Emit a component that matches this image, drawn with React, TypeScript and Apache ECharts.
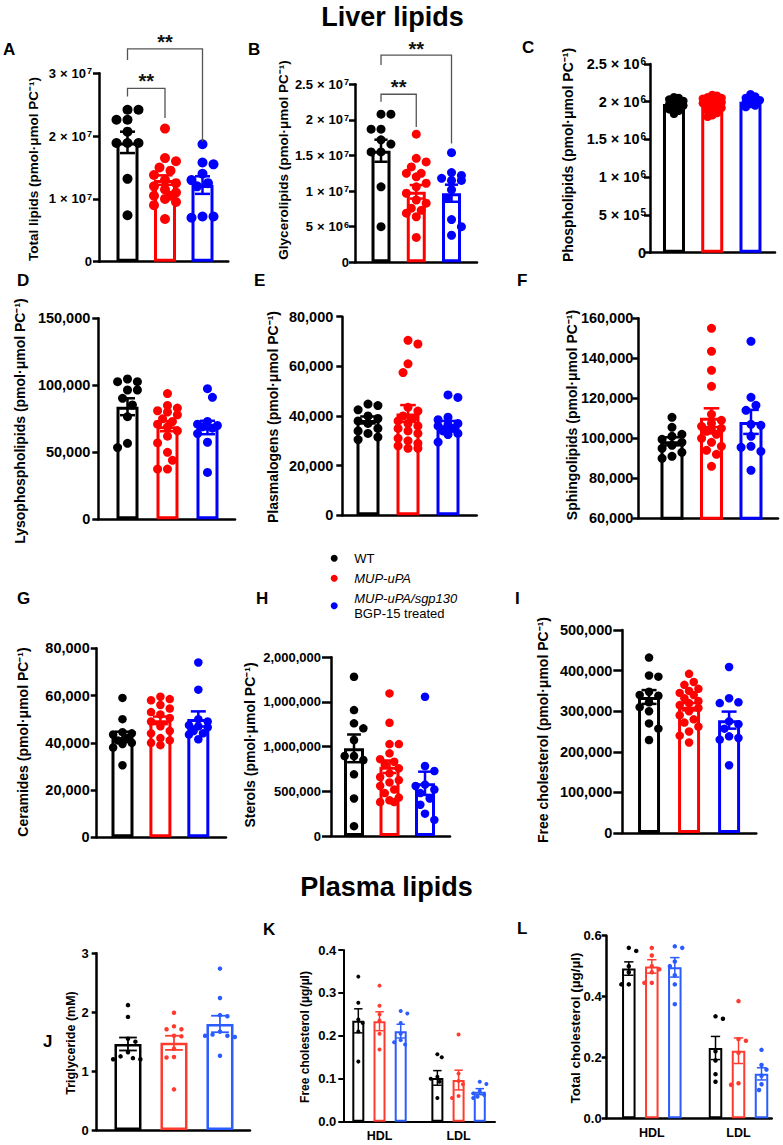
import React, { useEffect, useRef } from "react";
import * as echarts from "echarts";

const FONT = "'Liberation Sans', Arial, Helvetica, sans-serif";
const GROUPS = ["WT", "MUP-uPA", "MUP-uPA/sgp130 BGP-15 treated"];
const LIVER = ["#000000", "#ff0000", "#0000ff"];
const PLASMA = ["#000000", "#ff3b2f", "#2a5cff"];

// ---------- A: Total lipids ----------
const aWT = [24.2e6, 24.2e6, 22.6e6, 22.6e6, 20.7e6, 18.9e6, 18.9e6, 18.9e6, 13.2e6, 7.4e6];
const aMUP = [21.2e6, 16.5e6, 16.0e6, 15.0e6, 14.5e6, 13.8e6, 13.0e6, 12.5e6, 12.0e6, 11.5e6, 11.0e6, 10.5e6, 10.5e6, 10.0e6, 9.5e6, 9.0e6, 6.8e6];
const aBGP = [18.7e6, 15.8e6, 15.5e6, 14.0e6, 13.0e6, 12.5e6, 12.0e6, 7.2e6, 7.2e6, 7.0e6];
const aMean = [19.0e6, 13.0e6, 12.2e6];
const aSem = [1.7e6, 0.75e6, 1.4e6];
const aTicks = ["0", "1 × 10⁷", "2 × 10⁷", "3 × 10⁷"];
// bracket: [x1, x2, top, leftEnd, rightEnd, textY]
const aBrackets = [
  [0, 1, 27.6e6, 26.3e6, 22.9e6, 29.5e6],
  [0, 2, 33.9e6, 32.1e6, 19.1e6, 35.8e6],
];

// ---------- B: Glycerolipids ----------
const bWT = [20.8e6, 20.8e6, 18.7e6, 18.7e6, 17.2e6, 16.6e6, 15.5e6, 15.5e6, 10.6e6, 5.0e6];
const bMUP = [18.0e6, 14.6e6, 14.1e6, 13.4e6, 12.5e6, 12.5e6, 12.0e6, 11.1e6, 10.6e6, 9.7e6, 8.75e6, 8.3e6, 7.6e6, 7.3e6, 6.9e6, 6.4e6, 3.5e6];
const bBGP = [15.4e6, 12.6e6, 12.2e6, 11.8e6, 11.5e6, 11.5e6, 10.2e6, 9.0e6, 6.0e6, 5.0e6, 3.8e6];
const bMean = [15.67e6, 9.9e6, 9.7e6];
const bSem = [1.55e6, 0.95e6, 1.2e6];
const bTicks = ["0", "5 × 10⁶", "1 × 10⁷", "1.5 × 10⁷", "2 × 10⁷", "2.5 × 10⁷"];
const bBrackets = [
  [0, 1, 23.6e6, 22.55e6, 19.0e6, 25.3e6],
  [0, 2, 29.1e6, 27.7e6, 16.7e6, 30.7e6],
];

// ---------- C: Phospholipids ----------
const cWT = [2.06e6, 2.05e6, 2.03e6, 2.01e6, 2.0e6, 1.98e6, 1.97e6, 1.95e6, 1.93e6, 1.9e6, 1.88e6, 1.84e6];
const cMUP = [2.09e6, 2.08e6, 2.06e6, 2.05e6, 2.04e6, 2.02e6, 2.01e6, 2.0e6, 1.99e6, 1.98e6, 1.97e6, 1.95e6, 1.94e6, 1.92e6, 1.9e6, 1.88e6, 1.85e6, 1.82e6, 1.8e6];
const cBGP = [2.1e6, 2.07e6, 2.05e6, 2.04e6, 2.02e6, 2.01e6, 1.99e6, 1.97e6, 1.95e6, 1.93e6];
const cMean = [1.97e6, 1.97e6, 2.0e6];
const cSem = [0.02e6, 0.02e6, 0.02e6];
const cTicks = ["0", "5 × 10⁵", "1 × 10⁶", "1.5 × 10⁶", "2 × 10⁶", "2.5 × 10⁶"];

// ---------- D: Lysophospholipids ----------
const dWT = [104.7e3, 102.7e3, 102.7e3, 96.5e3, 96.5e3, 90.3e3, 85.3e3, 76.6e3, 56.7e3, 53.5e3];
const dMUP = [93.8e3, 85e3, 83e3, 81e3, 80e3, 78e3, 75e3, 73e3, 71e3, 69e3, 66e3, 62e3, 57e3, 50e3, 44e3, 37.5e3, 37.5e3];
const dBGP = [97.5e3, 91e3, 73e3, 71e3, 70e3, 69e3, 68e3, 64e3, 57.5e3, 35e3];
const dMean = [84e3, 69.5e3, 68.5e3];
const dSem = [6.3e3, 3.8e3, 5.0e3];
const dTicks = ["0", "50,000", "100,000", "150,000"];

// ---------- E: Plasmalogens ----------
const eWT = [44.8e3, 44.2e3, 42.5e3, 40e3, 39e3, 38e3, 37e3, 35e3, 34e3, 33e3, 31.5e3, 30.5e3];
const eMUP = [70.5e3, 69e3, 61e3, 57.5e3, 43.5e3, 42e3, 40e3, 39e3, 38e3, 37e3, 36e3, 35e3, 34e3, 33e3, 31e3, 30e3, 29e3, 28e3, 27e3, 27e3];
const eBGP = [48.5e3, 47.5e3, 39.5e3, 38.5e3, 37e3, 36.5e3, 36e3, 35e3, 34e3, 33e3, 32.5e3, 29.5e3];
const eMean = [38.4e3, 41.0e3, 36.3e3];
const eSem = [1.4e3, 3.4e3, 1.7e3];
const eTicks = ["0", "20,000", "40,000", "60,000", "80,000"];

// ---------- F: Sphingolipids ----------
const fWT = [110.5e3, 105.5e3, 102e3, 101e3, 99.5e3, 98e3, 96.5e3, 95e3, 93e3, 91e3, 90e3];
const fMUP = [155e3, 143.5e3, 134e3, 126e3, 112e3, 109e3, 107.5e3, 106e3, 105e3, 104e3, 103.5e3, 102e3, 100e3, 98e3, 96e3, 94e3, 92e3, 86e3];
const fBGP = [148.5e3, 120.5e3, 116.5e3, 114e3, 107e3, 106.5e3, 101e3, 96e3, 95.5e3, 93.5e3, 84e3];
const fMean = [98.5e3, 110.3e3, 108.2e3];
const fSem = [2.0e3, 4.7e3, 6.0e3];
const fTicks = ["60,000", "80,000", "100,000", "120,000", "140,000", "160,000"];

// ---------- G: Ceramides ----------
const gWT = [59e3, 50e3, 44.5e3, 44e3, 43.5e3, 42e3, 41e3, 40e3, 39.5e3, 38e3, 30.5e3];
const gMUP = [59.5e3, 58.5e3, 58e3, 56e3, 54.5e3, 53e3, 52e3, 50.5e3, 49e3, 47e3, 45e3, 44e3, 42e3, 41e3, 40e3, 39e3];
const gBGP = [74e3, 62.5e3, 50e3, 49e3, 47.5e3, 47e3, 46.5e3, 45e3, 44e3, 43.5e3, 41.5e3];
const gMean = [42.5e3, 49.5e3, 50.1e3];
const gSem = [2.2e3, 1.6e3, 3.2e3];
const gTicks = ["0", "20,000", "40,000", "60,000", "80,000"];

// ---------- H: Sterols ----------
const hWT = [1782e3, 1409e3, 1261e3, 1205e3, 1074e3, 895e3, 895e3, 850e3, 690e3, 420e3, 110e3];
const hMUP = [1596e3, 1267e3, 1029e3, 1029e3, 925e3, 860e3, 831e3, 800e3, 757e3, 701e3, 660e3, 626e3, 600e3, 560e3, 520e3, 480e3, 430e3, 400e3, 380e3, 380e3];
const hBGP = [1558e3, 783e3, 727e3, 575e3, 560e3, 520e3, 480e3, 420e3, 350e3, 250e3, 180e3];
const hMean = [981e3, 775e3, 590e3];
const hSem = [155e3, 70e3, 130e3];
const hTicks = ["0", "500,000", "1,000,000", "1,000,000", "2,000,000"];

// ---------- I: Free cholesterol ----------
const iWT = [432e3, 388e3, 385e3, 348e3, 340e3, 338e3, 322e3, 310e3, 300e3, 270e3, 257e3, 229e3];
const iMUP = [392e3, 372e3, 365e3, 355e3, 350e3, 345e3, 340e3, 332e3, 325e3, 320e3, 315e3, 308e3, 300e3, 290e3, 280e3, 272e3, 262e3, 250e3, 240e3, 223e3];
const iBGP = [409e3, 332e3, 322e3, 320e3, 275e3, 268e3, 257e3, 238e3, 234e3, 230e3, 167e3];
const iMean = [335e3, 311e3, 278e3];
const iSem = [17e3, 9e3, 21e3];
const iTicks = ["0", "100,000", "200,000", "300,000", "400,000", "500,000"];

// ---------- J: Triglyceride ----------
const jWT = [2.12, 1.92, 1.55, 1.5, 1.32, 1.25, 1.22, 1.2, 1.2];
const jMUP = [1.99, 1.76, 1.71, 1.71, 1.6, 1.59, 1.38, 1.24, 1.23, 0.69];
const jBGP = [2.74, 2.24, 1.95, 1.93, 1.67, 1.62, 1.6, 1.6, 1.58, 1.26];
const jMean = [1.46, 1.48, 1.8];
const jSem = [0.11, 0.12, 0.14];
const jTicks = ["0", "1", "2", "3"];

// ---------- K: Free cholesterol (plasma) ----------
const kHdlWT = [0.338, 0.277, 0.238, 0.23, 0.21, 0.14];
const kHdlMUP = [0.317, 0.27, 0.25, 0.236, 0.205, 0.168];
const kHdlBGP = [0.258, 0.252, 0.23, 0.205, 0.19, 0.185, 0.18];
const kLdlWT = [0.157, 0.15, 0.105, 0.1, 0.093, 0.055];
const kLdlMUP = [0.203, 0.112, 0.095, 0.087, 0.06, 0.055];
const kLdlBGP = [0.093, 0.088, 0.072, 0.066, 0.062, 0.058, 0.055];
const kMean = [0.235, 0.234, 0.211, 0.102, 0.097, 0.07];
const kSem = [0.028, 0.022, 0.016, 0.017, 0.023, 0.007];
const kTicks = ["0.0", "0.1", "0.2", "0.3", "0.4"];

// ---------- L: Total cholesterol (plasma) ----------
const lHdlWT = [0.56, 0.55, 0.5, 0.48, 0.44, 0.44];
const lHdlMUP = [0.56, 0.535, 0.5, 0.49, 0.48, 0.445, 0.445];
const lHdlBGP = [0.565, 0.56, 0.515, 0.5, 0.47, 0.44, 0.375];
const lLdlWT = [0.335, 0.327, 0.22, 0.19, 0.145, 0.12];
const lLdlMUP = [0.385, 0.26, 0.255, 0.215, 0.115, 0.11];
const lLdlBGP = [0.225, 0.175, 0.16, 0.14, 0.112, 0.093];
const lMean = [0.492, 0.499, 0.496, 0.231, 0.222, 0.146];
const lSem = [0.022, 0.022, 0.032, 0.038, 0.042, 0.02];
const lTicks = ["0.0", "0.2", "0.4", "0.6"];

const lipoCats = ["HDL", "LDL"];

const PC = " (pmol·μmol PC⁻¹)";

const LIV = { colors: LIVER, series: [0, 1, 2], pos: [0, 1, 2], border: 3, errW: 2.5, axisW: 2.5, swarmK: 1.0 };

// layout per panel (positions in px, sizes, fonts)
const panels: any[] = [
  { ...LIV, letter: "A", lx: 3, ly: 49, left: 99, top: 73.3, width: 129.3, height: 188.4, xMin: -0.76, xMax: 2.688,
    yMin: 0, yMax: 3e7, yInt: 1e7, ticks: aTicks, name: "Total lipids" + PC, nx: 33, ny: 169, nameSize: 13.5, tickSize: 13, margin: 7, tickLen: 6,
    barW: 25, dot: 10, means: aMean, sems: aSem, points: [aWT, aMUP, aBGP], brackets: aBrackets },
  { ...LIV, letter: "B", lx: 248, ly: 49, left: 355, top: 84.3, width: 122, height: 178, xMin: -0.738, xMax: 2.723,
    yMin: 0, yMax: 2.5e7, yInt: 5e6, ticks: bTicks, name: "Glycerolipids" + PC, nx: 283, ny: 160, nameSize: 13.5, tickSize: 13, margin: 6, tickLen: 6,
    barW: 22, dot: 9, means: bMean, sems: bSem, points: [bWT, bMUP, bBGP], brackets: bBrackets },
  { ...LIV, swarmK: 0.5, letter: "C", lx: 522, ly: 47, left: 650, top: 64, width: 125, height: 188.7, xMin: -0.627, xMax: 2.641,
    yMin: 0, yMax: 2.5e6, yInt: 5e5, ticks: cTicks, name: "Phospholipids" + PC, nx: 568, ny: 155, nameSize: 14, tickSize: 14.5, margin: 4, tickLen: 6,
    barW: 25, dot: 8.5, means: cMean, sems: cSem, points: [cWT, cMUP, cBGP] },
  { ...LIV, letter: "D", lx: 17, ly: 280, left: 98.3, top: 318.3, width: 136.7, height: 201, xMin: -0.73, xMax: 2.688,
    yMin: 0, yMax: 150000, yInt: 50000, ticks: dTicks, name: "Lysophospholipids" + PC, nx: 20, ny: 421, nameSize: 14, tickSize: 14.5, margin: 8, tickLen: 6,
    barW: 25, dot: 9, means: dMean, sems: dSem, points: [dWT, dMUP, dBGP] },
  { ...LIV, letter: "E", lx: 254, ly: 280, left: 342.3, top: 316.7, width: 134.4, height: 198.6, xMin: -0.6425, xMax: 2.7175,
    yMin: 0, yMax: 80000, yInt: 20000, ticks: eTicks, name: "Plasmalogens" + PC, nx: 273.3, ny: 417, nameSize: 14, tickSize: 14.5, margin: 9, tickLen: 6,
    barW: 26, dot: 9, means: eMean, sems: eSem, points: [eWT, eMUP, eBGP] },
  { ...LIV, letter: "F", lx: 517, ly: 280, left: 638.3, top: 318.3, width: 139.7, height: 200, xMin: -0.853, xMax: 2.684,
    yMin: 60000, yMax: 160000, yInt: 20000, ticks: fTicks, name: "Sphingolipids" + PC, nx: 571.7, ny: 415, nameSize: 14, tickSize: 14.5, margin: 5, tickLen: 6,
    barW: 26, dot: 9, means: fMean, sems: fSem, points: [fWT, fMUP, fBGP] },
  { ...LIV, letter: "G", lx: 17, ly: 598, left: 96.7, top: 648.3, width: 129.3, height: 189, xMin: -0.68, xMax: 2.73,
    yMin: 0, yMax: 80000, yInt: 20000, ticks: gTicks, name: "Ceramides" + PC, nx: 23, ny: 742, nameSize: 14, tickSize: 14.5, margin: 7, tickLen: 6,
    barW: 25, dot: 8.5, means: gMean, sems: gSem, points: [gWT, gMUP, gBGP] },
  { ...LIV, letter: "H", lx: 256, ly: 598, left: 331, top: 657.3, width: 119, height: 178.7, xMin: -0.648, xMax: 2.704,
    yMin: 0, yMax: 2000000, yInt: 500000, ticks: hTicks, name: "Sterols" + PC, nx: 250, ny: 745, nameSize: 14, tickSize: 13, margin: 10, tickLen: 9,
    barW: 23, dot: 8.5, means: hMean, sems: hSem, points: [hWT, hMUP, hBGP] },
  { ...LIV, letter: "I", lx: 515, ly: 598, left: 622.3, top: 630, width: 134, height: 203, xMin: -0.668, xMax: 2.68,
    yMin: 0, yMax: 500000, yInt: 100000, ticks: iTicks, name: "Free cholesterol" + PC, nx: 543, ny: 730, nameSize: 14, tickSize: 14.5, margin: 10, tickLen: 9,
    barW: 25, dot: 8.5, means: iMean, sems: iSem, points: [iWT, iMUP, iBGP] },
  { colors: PLASMA, series: [0, 1, 2], pos: [0, 1, 2], border: 2.5, errW: 1.8, axisW: 2.5, swarmK: 1.45,
    letter: "J", lx: 43, ly: 1041, left: 96.7, top: 953.3, width: 153.3, height: 176.7, xMin: -0.68, xMax: 2.653,
    yMin: 0, yMax: 3, yInt: 1, ticks: jTicks, name: "Triglyceride (mM)", nx: 71, ny: 1043, nameSize: 12.5, tickSize: 13, margin: 8, tickLen: 5,
    barW: 29.5, dot: 4.5, means: jMean, sems: jSem, points: [jWT, jMUP, jBGP] },
  { colors: [...PLASMA, ...PLASMA], series: [0, 1, 2, 0, 1, 2], pos: [0, 1, 2, 3.73, 4.73, 5.73], border: 2, errW: 1.5, axisW: 2, swarmK: 1.3,
    letter: "K", lx: 263, ly: 929, left: 343.3, top: 950, width: 151.7, height: 171.7, xMin: -0.708, xMax: 6.448,
    yMin: 0, yMax: 0.4, yInt: 0.1, ticks: kTicks, name: "Free cholesterol (µg/µl)", nx: 305, ny: 1037, nameSize: 12, tickSize: 13, margin: 7, tickLen: 5,
    barW: 14, dot: 4, means: kMean, sems: kSem, points: [kHdlWT, kHdlMUP, kHdlBGP, kLdlWT, kLdlMUP, kLdlBGP], catPos: [1, 4.73] },
  { colors: [...PLASMA, ...PLASMA], series: [0, 1, 2, 0, 1, 2], pos: [0, 1, 2, 3.77, 4.77, 5.77], border: 2, errW: 1.5, axisW: 2.5, swarmK: 1.3,
    letter: "L", lx: 517, ly: 928, left: 606.7, top: 935.7, width: 165, height: 182.6, xMin: -0.961, xMax: 6.213,
    yMin: 0, yMax: 0.6, yInt: 0.2, ticks: lTicks, name: "Total cholesterol (µg/µl)", nx: 575, ny: 1028, nameSize: 13.5, tickSize: 13, margin: 5, tickLen: 5,
    barW: 15.5, dot: 4.5, means: lMean, sems: lSem, points: [lHdlWT, lHdlMUP, lHdlBGP, lLdlWT, lLdlMUP, lLdlBGP], catPos: [1, 4.77] },
];

const SUP: Record<string, string> = { "⁰": "0", "¹": "1", "²": "2", "³": "3", "⁴": "4", "⁵": "5", "⁶": "6", "⁷": "7", "⁸": "8", "⁹": "9" };
// "2.5 × 10⁷" -> rich text tokens (mantissa, times sign, base, superscript exponent)
function toRich(t: string): string {
  const m = t.match(/^(.*) × 10([⁰¹²³⁴⁵⁶⁷⁸⁹]+)$/);
  if (!m) return "{n|" + t + "}";
  const exp = m[2].split("").map((c) => SUP[c]).join("");
  return "{n|" + m[1] + "}{x|×}{n|10}{s|" + exp + "}";
}

// beeswarm layout of dots (pixel offsets), deterministic
function swarm(vals: number[], pxPerUnit: number, diam: number, k: number, maxOff: number): number[] {
  const order = vals.map((_, i) => i).sort((a, b) => vals[b] - vals[a]);
  const placed: { x: number; y: number }[] = [];
  const out: number[] = new Array(vals.length).fill(0);
  const minD = diam * k;
  const step = diam * 0.55;
  let flip = 1;
  for (const i of order) {
    const y = vals[i] * pxPerUnit;
    const cands: number[] = [0];
    for (let j = 1; j * step <= maxOff + 0.01; j++) cands.push(flip * j * step, -flip * j * step);
    let chosen: number | null = null;
    let best = 0;
    let bestD = -1;
    for (const c of cands) {
      let md = Infinity;
      for (const p of placed) md = Math.min(md, Math.hypot(p.x - c, p.y - y));
      if (md >= minD) { chosen = c; break; }
      if (md > bestD) { bestD = md; best = c; }
    }
    const x = chosen === null ? best : chosen;
    if (x !== 0) flip = -Math.sign(x);
    placed.push({ x, y });
    out[i] = x;
  }
  return out;
}

function buildOption() {
  const grid: any[] = [];
  const xAxis: any[] = [];
  const yAxis: any[] = [];
  const series: any[] = [];
  const graphic: any[] = [];

  panels.forEach((p, i) => {
    grid.push({ left: p.left, top: p.top, width: p.width, height: p.height });
    const s = p.width / (p.xMax - p.xMin);
    const pxPerY = p.height / (p.yMax - p.yMin);
    xAxis.push({
      type: "value", gridIndex: i, min: p.xMin, max: p.xMax,
      axisLine: { show: true, onZero: false, lineStyle: { color: "#000", width: p.axisW } },
      axisTick: { show: false }, splitLine: { show: false },
      axisLabel: p.catPos
        ? {
            show: true, customValues: p.catPos, margin: 8,
            fontSize: 12.5, fontWeight: "bold", fontFamily: FONT, color: "#000",
            formatter: (v: number) => (Math.abs(v - p.catPos[0]) < 0.5 ? lipoCats[0] : lipoCats[1]),
          }
        : { show: false },
    });
    const ts = p.tickSize;
    const base = { fontWeight: "bold", fontFamily: FONT, color: "#000" };
    yAxis.push({
      type: "value", gridIndex: i, min: p.yMin, max: p.yMax, interval: p.yInt,
      axisLine: { show: true, onZero: false, lineStyle: { color: "#000", width: p.axisW } },
      axisTick: { show: true, length: p.tickLen, lineStyle: { color: "#000", width: p.axisW } },
      splitLine: { show: false },
      axisLabel: {
        fontSize: ts, ...base, margin: p.margin,
        formatter: (v: number) => toRich(p.ticks[Math.round((v - p.yMin) / p.yInt)] ?? ""),
        rich: {
          n: { ...base, fontSize: ts },
          x: { ...base, fontSize: ts, padding: [0, 4, 0, 4] },
          s: { ...base, fontSize: Math.round(ts * 0.72), verticalAlign: "top", padding: [0, 0, 0, 1] },
        },
      },
    });

    // bars (mean)
    series.push({
      type: "bar", xAxisIndex: i, yAxisIndex: i, barWidth: p.barW - p.border, z: 2, silent: true,
      data: p.pos.map((x: number, g: number) => ({
        value: [x, p.means[g]],
        itemStyle: { color: "#fff", borderColor: p.colors[g], borderWidth: p.border },
      })),
    });

    // individual animals
    p.points.forEach((vals: number[], g: number) => {
      const offs = swarm(vals, pxPerY, p.dot, p.swarmK, p.barW / 2 + 1);
      series.push({
        type: "scatter", name: GROUPS[p.series[g]], xAxisIndex: i, yAxisIndex: i,
        symbol: "circle", symbolSize: p.dot, z: 3, silent: true,
        itemStyle: { color: p.colors[g], opacity: 1 },
        data: vals.map((v, k) => [p.pos[g] + offs[k] / s, v]),
      });
    });

    // error bars (mean ± SEM)
    series.push({
      type: "custom", xAxisIndex: i, yAxisIndex: i, z: 4, silent: true, encode: { x: 0, y: 1 },
      data: p.pos.map((x: number, g: number) => [x, p.means[g], p.sems[g]]),
      renderItem: (params: any, api: any) => {
        const g = params.dataIndex;
        const x = api.value(0), m = api.value(1), e = api.value(2);
        const t = api.coord([x, m + e]);
        const b = api.coord([x, m - e]);
        const hw = p.barW * 0.3;
        const style = { stroke: p.colors[g], lineWidth: p.errW };
        return {
          type: "group",
          children: [
            { type: "line", shape: { x1: t[0], y1: t[1], x2: b[0], y2: b[1] }, style },
            { type: "line", shape: { x1: t[0] - hw, y1: t[1], x2: t[0] + hw, y2: t[1] }, style },
            { type: "line", shape: { x1: b[0] - hw, y1: b[1], x2: b[0] + hw, y2: b[1] }, style },
          ],
        };
      },
    });

    if (p.brackets) {
      series.push({
        type: "custom", xAxisIndex: i, yAxisIndex: i, z: 5, silent: true, clip: false, encode: { x: 0, y: 2 },
        data: p.brackets,
        renderItem: (params: any, api: any) => {
          const x1 = api.value(0), x2 = api.value(1);
          const top = api.value(2), yl = api.value(3), yr = api.value(4), yt = api.value(5);
          const a = api.coord([x1, yl]);
          const b = api.coord([x1, top]);
          const c = api.coord([x2, top]);
          const d = api.coord([x2, yr]);
          const tp = api.coord([(x1 + x2) / 2, yt]);
          return {
            type: "group",
            children: [
              { type: "polyline", shape: { points: [a, b, c, d] }, style: { stroke: "#555", lineWidth: 1.3, fill: null } },
              {
                type: "text", x: tp[0], y: tp[1] + 5,
                style: { text: "**", fill: "#111", fontSize: 20, fontWeight: "bold", fontFamily: FONT, align: "center", verticalAlign: "middle" },
              },
            ],
          };
        },
      });
    }

    // panel letter
    graphic.push({
      type: "text", x: p.lx, y: p.ly,
      style: { text: p.letter, fill: "#000", fontSize: 17, fontWeight: "bold", fontFamily: FONT, textVerticalAlign: "middle", verticalAlign: "middle" },
    });
    // y-axis title
    graphic.push({
      type: "text", x: p.nx, y: p.ny, rotation: Math.PI / 2,
      style: {
        text: p.name, fill: "#000", fontSize: p.nameSize, fontWeight: "bold", fontFamily: FONT,
        textAlign: "center", align: "center", textVerticalAlign: "middle", verticalAlign: "middle",
      },
    });
  });

  graphic.push({
    type: "text", x: 392.5, y: 17,
    style: { text: "Liver lipids", fill: "#000", fontSize: 27, fontWeight: "bold", fontFamily: FONT, textAlign: "center", align: "center", textVerticalAlign: "middle", verticalAlign: "middle" },
  });
  graphic.push({
    type: "text", x: 386.5, y: 887,
    style: { text: "Plasma lipids", fill: "#000", fontSize: 27, fontWeight: "bold", fontFamily: FONT, textAlign: "center", align: "center", textVerticalAlign: "middle", verticalAlign: "middle" },
  });

  return {
    animation: false,
    backgroundColor: "#ffffff",
    grid, xAxis, yAxis, series, graphic,
    legend: {
      show: true, data: GROUPS, orient: "vertical", left: 330.7, top: 550.8, padding: 0,
      itemWidth: 30, itemHeight: 7, itemGap: 5, icon: "circle", selectedMode: false,
      textStyle: {
        fontSize: 13, fontFamily: FONT, color: "#000", lineHeight: 15,
        rich: { i: { fontStyle: "italic", fontSize: 13, fontFamily: FONT, color: "#000", lineHeight: 15 } },
      },
      formatter: (n: string) =>
        n === GROUPS[0] ? "WT" : n === GROUPS[1] ? "{i|MUP-uPA}" : "{i|MUP-uPA/sgp130}\nBGP-15 treated",
    },
  };
}

export default function App() {
  const ref = useRef<HTMLDivElement>(null);
  useEffect(() => {
    if (!ref.current) return;
    const chart = echarts.init(ref.current, undefined, { renderer: "svg" });
    chart.setOption(buildOption() as any);
    return () => chart.dispose();
  }, []);
  return (
    <div
      ref={ref}
      style={{ position: "absolute", left: 0, top: 0, width: 783, height: 1145, background: "#fff" }}
    />
  );
}
